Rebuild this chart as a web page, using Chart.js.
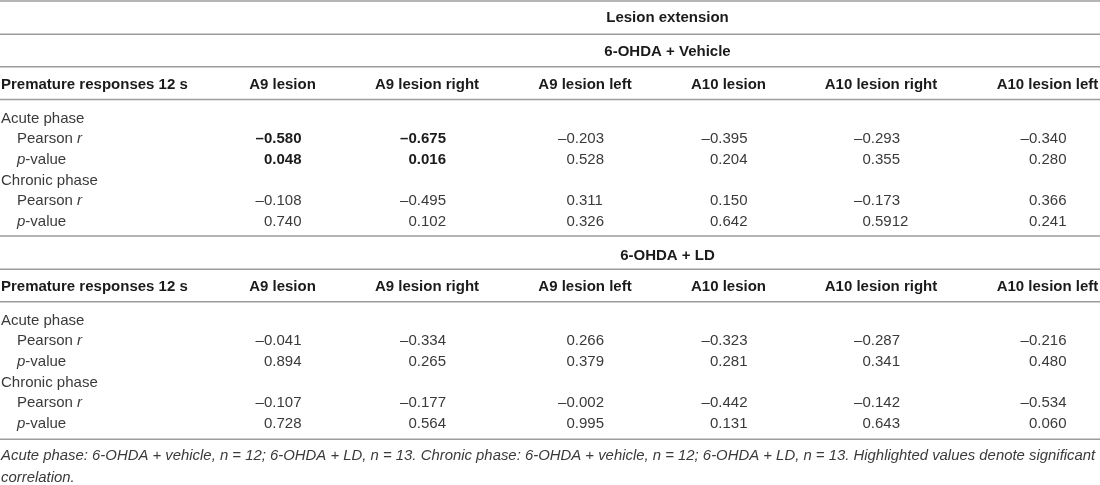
<!DOCTYPE html>
<html>
<head>
<meta charset="utf-8">
<script src="https://cdn.jsdelivr.net/npm/chart.js@4.4.1/dist/chart.umd.min.js"></script>
<style>
  html, body { margin: 0; padding: 0; background: #fff; }
  #wrap { width: 1100px; height: 485px; }
</style>
</head>
<body>
<div id="wrap"><canvas id="tableChart" width="1100" height="485"></canvas></div>
<script>
// table content
const columns = ['A9 lesion', 'A9 lesion right', 'A9 lesion left', 'A10 lesion', 'A10 lesion right', 'A10 lesion left'];
const groups = ['6-OHDA + Vehicle', '6-OHDA + LD'];
const spanTitle = 'Lesion extension';
const rowHeader = 'Premature responses 12 s';

const vehAcuteR = [-0.580, -0.675, -0.203, -0.395, -0.293, -0.340];
const vehAcuteP = [0.048, 0.016, 0.528, 0.204, 0.355, 0.280];
const vehChronicR = [-0.108, -0.495, 0.311, 0.150, -0.173, 0.366];
const vehChronicP = [0.740, 0.102, 0.326, 0.642, 0.5912, 0.241];

const ldAcuteR = [-0.041, -0.334, 0.266, -0.323, -0.287, -0.216];
const ldAcuteP = [0.894, 0.265, 0.379, 0.281, 0.341, 0.480];
const ldChronicR = [-0.107, -0.177, -0.002, -0.442, -0.142, -0.534];
const ldChronicP = [0.728, 0.564, 0.995, 0.131, 0.643, 0.060];

const footnote = [
    'Acute phase: 6-OHDA + vehicle, n = 12; 6-OHDA + LD, n = 13. Chronic phase: 6-OHDA + vehicle, n = 12; 6-OHDA + LD, n = 13. Highlighted values denote significant',
    'correlation.'
];

// layout (pixel units of the 1100 x 485 scale)
const colCenter = [282.5, 427, 585, 728.5, 881, 1047.5];
const valueShift = 19;           // right edge of 3-decimal values vs column centre
const titleX = 667.5;
const blockTop = [0, 202];       // vertical offset of each group block
const rowAt = { title: 50.7, header: 83.5, acute: 117, acuteR: 137, acuteP: 158, chronic: 179, chronicR: 199, chronicP: 220 };
const rules = [1, 34.3, 66.7, 99.5, 236, 269.3, 301.7, 439.3];
const textDrop = 1.5;            // 'middle' baseline sits a little high in Liberation Sans

const font = (style, size) => style + (size || 15) + 'px "Liberation Sans", Arial, Helvetica, sans-serif';
const textDark = '#1b1b1b';
const textGrey = '#3a3a3a';

function fmt(v) {
    let s = Math.abs(v).toFixed(3);
    if (parseFloat(s) !== Math.abs(v)) s = Math.abs(v).toFixed(4);
    return (v < 0 ? '\u2013' : '') + s;
}

function cellPoints(rVals, pVals, yR, yP) {
    const pts = [];
    rVals.forEach((r, i) => {
        const sig = pVals[i] < 0.05;
        pts.push({ x: colCenter[i], y: yR, txt: fmt(r), bold: sig });
        pts.push({ x: colCenter[i], y: yP, txt: fmt(pVals[i]), bold: sig });
    });
    return pts;
}

const blocks = [
    [vehAcuteR, vehAcuteP, vehChronicR, vehChronicP],
    [ldAcuteR, ldAcuteP, ldChronicR, ldChronicP]
];

const datasets = blocks.map((b, k) => ({
    label: groups[k],
    data: cellPoints(b[0], b[1], rowAt.acuteR + blockTop[k], rowAt.acuteP + blockTop[k])
        .concat(cellPoints(b[2], b[3], rowAt.chronicR + blockTop[k], rowAt.chronicP + blockTop[k])),
    pointRadius: 0,
    pointHoverRadius: 0,
    showLine: false
}));

function drawPieces(ctx, pieces, x, y) {
    pieces.forEach(p => {
        ctx.font = font(p[1]);
        ctx.fillText(p[0], x, y);
        x += ctx.measureText(p[0]).width;
    });
}

const tablePlugin = {
    id: 'tableText',
    afterDatasetsDraw(chart) {
        const ctx = chart.ctx;
        const xs = chart.scales.x, ys = chart.scales.y;
        const ty = v => ys.getPixelForValue(v) + textDrop;
        ctx.save();
        ctx.textBaseline = 'middle';

        // horizontal rules
        ctx.strokeStyle = '#9c9c9c';
        ctx.lineWidth = 1.5;
        rules.forEach(r => {
            const py = ys.getPixelForValue(r);
            ctx.beginPath();
            ctx.moveTo(xs.left, py);
            ctx.lineTo(xs.right, py);
            ctx.stroke();
        });

        // spanning title
        ctx.fillStyle = textDark;
        ctx.textAlign = 'center';
        ctx.font = font('bold ');
        ctx.fillText(spanTitle, xs.getPixelForValue(titleX), ty(16.7));

        blocks.forEach((b, k) => {
            const off = blockTop[k];
            ctx.fillStyle = textDark;
            ctx.textAlign = 'center';
            ctx.font = font('bold ');
            ctx.fillText(groups[k], xs.getPixelForValue(titleX), ty(rowAt.title + off + (k ? 1.3 : 0)));
            columns.forEach((c, i) => {
                ctx.fillText(c, xs.getPixelForValue(colCenter[i]), ty(rowAt.header + off));
            });
            ctx.textAlign = 'left';
            ctx.fillText(rowHeader, xs.getPixelForValue(1), ty(rowAt.header + off));

            ctx.fillStyle = textGrey;
            ctx.font = font('');
            ctx.fillText('Acute phase', xs.getPixelForValue(1), ty(rowAt.acute + off));
            ctx.fillText('Chronic phase', xs.getPixelForValue(1), ty(rowAt.chronic + off));
            [rowAt.acuteR, rowAt.chronicR].forEach(y => {
                drawPieces(ctx, [['Pearson ', ''], ['r', 'italic ']], xs.getPixelForValue(17), ty(y + off));
            });
            [rowAt.acuteP, rowAt.chronicP].forEach(y => {
                drawPieces(ctx, [['p', 'italic '], ['-value', '']], xs.getPixelForValue(17), ty(y + off));
            });
        });

        // values, aligned on the decimal point
        chart.data.datasets.forEach((ds, di) => {
            const meta = chart.getDatasetMeta(di);
            meta.data.forEach((el, j) => {
                const cell = ds.data[j];
                ctx.font = font(cell.bold ? 'bold ' : '');
                ctx.fillStyle = cell.bold ? textDark : textGrey;
                const dot = cell.txt.indexOf('.');
                const head = cell.txt.slice(0, dot);
                const tail = cell.txt.slice(dot);
                const anchor = el.x + valueShift - ctx.measureText('.000').width;
                ctx.textAlign = 'right';
                ctx.fillText(head, anchor, el.y + textDrop);
                ctx.textAlign = 'left';
                ctx.fillText(tail, anchor, el.y + textDrop);
            });
        });

        // footnote, sized so the first line fills the width like the reference
        ctx.font = font('italic ');
        const fit = 1095 / ctx.measureText(footnote[0]).width;
        const noteSize = Math.min(15, 15 * fit);
        ctx.font = font('italic ', noteSize.toFixed(2));
        ctx.fillStyle = textGrey;
        ctx.textAlign = 'left';
        ctx.fillText(footnote[0], xs.getPixelForValue(1), ty(454.3));
        ctx.fillText(footnote[1], xs.getPixelForValue(1), ty(476.7));
        ctx.restore();
    }
};

new Chart(document.getElementById('tableChart').getContext('2d'), {
    type: 'scatter',
    data: { datasets: datasets },
    options: {
        responsive: false,
        animation: false,
        events: [],
        layout: { padding: 0 },
        plugins: { legend: { display: false }, tooltip: { enabled: false } },
        scales: {
            x: { type: 'linear', min: 0, max: 1100, display: false },
            y: { type: 'linear', min: 0, max: 485, reverse: true, display: false }
        }
    },
    plugins: [tablePlugin]
});
</script>
</body>
</html>
